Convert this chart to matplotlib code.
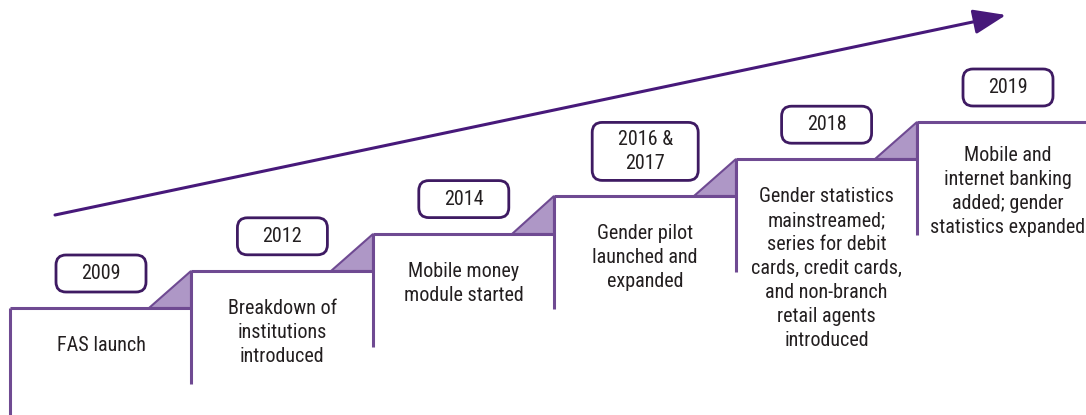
import matplotlib
matplotlib.use("Agg")
import matplotlib.pyplot as plt
from matplotlib.patches import FancyBboxPatch, Polygon
from matplotlib import font_manager

years = ["2009", "2012", "2014", "2016 &\n2017", "2018", "2019"]
descriptions = [
    "FAS launch",
    "Breakdown of\ninstitutions\nintroduced",
    "Mobile money\nmodule started",
    "Gender pilot\nlaunched and\nexpanded",
    "Gender statistics\nmainstreamed;\nseries for debit\ncards, credit cards,\nand non-branch\nretail agents\nintroduced",
    "Mobile and\ninternet banking\nadded; gender\nstatistics expanded",
]
steps = [0, 1, 2, 3, 4, 5]

names = {f.name for f in font_manager.fontManager.ttflist}
fam = [f for f in ["Roboto Condensed", "Liberation Sans Narrow", "Liberation Sans"] if f in names][:1] + ["DejaVu Sans"]
plt.rcParams['font.family'] = fam

W, H = 1086, 415
fig = plt.figure(figsize=(W / 100, H / 100), dpi=100)
ax = fig.add_axes([0, 0, 1, 1])
ax.set_xlim(0, W)
ax.set_ylim(H, 0)
ax.axis("off")

step_col = "#6f4a92"
tri_col = "#ae97c6"
box_col = "#3e1a62"
arrow_col = "#47197a"
txt_col = "#231f20"

x0, dx = 10, 181.4
y0, dy = 308, 37.2
drop = 113
tri_w = 42

n = len(steps)
for i, s in enumerate(steps):
    left = x0 + s * dx
    right = left + dx if i < n - 1 else W
    top = y0 - s * dy
    bottom = H if i == 0 else top + drop
    if i < n - 1:
        ntop = y0 - (s + 1) * dy
        ax.add_patch(Polygon([(right - tri_w, top), (right, top), (right, ntop)],
                             closed=True, facecolor=tri_col, edgecolor=step_col, lw=1.5, zorder=2))
    ax.plot([left, left], [bottom, top], color=step_col, lw=2.2, solid_capstyle="butt", zorder=3)
    ax.plot([left, right], [top, top], color=step_col, lw=2.2, solid_capstyle="butt", zorder=3)

    cx = left + 91
    ax.text(cx, top + (28 if i < n - 1 else 24), descriptions[i], ha="center", va="top",
            fontsize=14.5, color=txt_col, linespacing=1.33, zorder=4)
    nlines = years[i].count("\n") + 1
    bh = 37 if nlines == 1 else 58
    bw = 90 if nlines == 1 else 106
    bb = top - 16
    ax.add_patch(FancyBboxPatch((cx - bw / 2, bb - bh), bw, bh,
                                boxstyle="round,pad=0,rounding_size=10",
                                facecolor="white", edgecolor=box_col, lw=2.0, zorder=4))
    ax.text(cx, bb - bh / 2, years[i], ha="center", va="center", fontsize=14.5,
            color=txt_col, linespacing=1.3, zorder=5)

ax.annotate("", xy=(1006, 15), xytext=(55, 215),
            arrowprops=dict(arrowstyle="-|>,head_length=1.0,head_width=0.38",
                            color=arrow_col, lw=2.2, mutation_scale=20, shrinkA=0, shrinkB=0))

fig.savefig("out.png", dpi=100)
